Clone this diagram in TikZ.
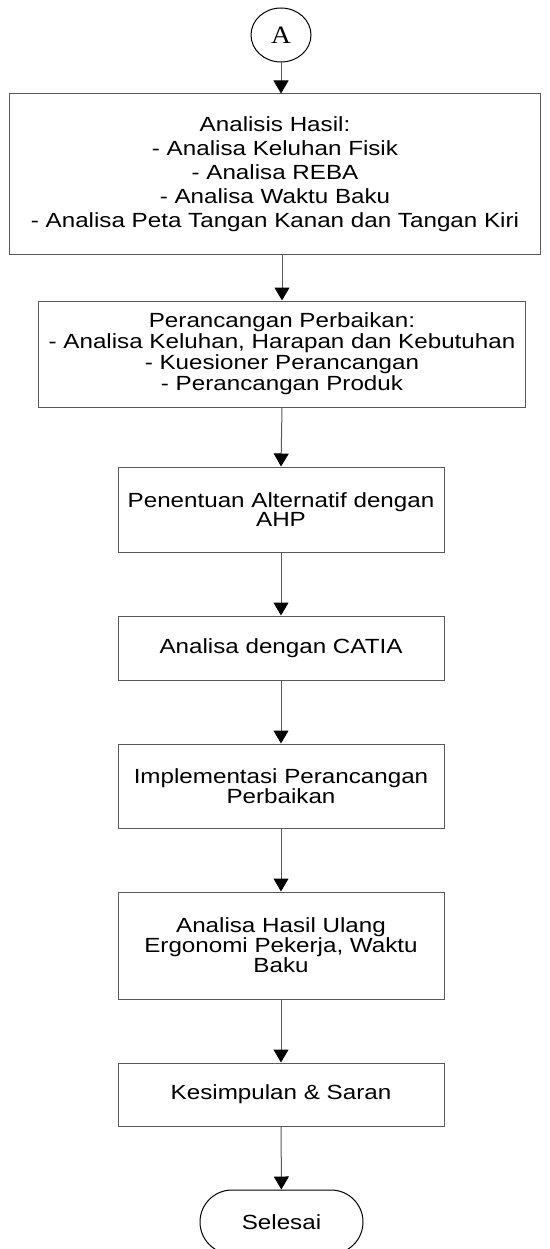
\documentclass[tikz,border=0pt]{standalone}
\usepackage{fontspec}
\newfontfamily\boxfont{Liberation Sans}[FakeStretch=1.18]
\newfontfamily\capfont{Liberation Serif}[FakeStretch=1.1]
\usetikzlibrary{arrows.meta,shapes.geometric,shapes.misc}
\tikzset{
    prosesbox/.style={draw=black!65, line width=1pt, rectangle, inner sep=0pt,
        align=center, font={\boxfont\fontsize{20.5}{18.5}\selectfont}},
    konektor/.style={draw=black, line width=1pt, ellipse, inner sep=0pt,
        minimum width=60pt, minimum height=54pt, font={\capfont\fontsize{25}{25}\selectfont}},
    terminal/.style={draw=black, line width=1pt, rounded rectangle, inner sep=0pt,
        minimum width=163pt, minimum height=64pt, font={\boxfont\fontsize{20.5}{18.5}\selectfont}},
    panah/.style={draw=black!65, line width=1pt, -{Triangle[width=15pt,length=13pt,color=black]}}
}

\begin{document}
\begin{tikzpicture}[x=1pt, y=-1pt]
    \useasboundingbox (0,0) rectangle (549,1249);

    \node[konektor] (a) at (281,35) {A};
    \node[prosesbox, minimum width=531pt, minimum height=160pt,
        font={\boxfont\fontsize{20.5}{24}\selectfont}] (hasil) at (275,174)
        {Analisis Hasil:\\- Analisa Keluhan Fisik\\- Analisa REBA\\- Analisa Waktu Baku\\- Analisa Peta Tangan Kanan dan Tangan Kiri};
    \node[prosesbox, minimum width=487pt, minimum height=106pt,
        font={\boxfont\fontsize{20.5}{21}\selectfont}] (perancangan) at (282,354)
        {Perancangan Perbaikan:\\- Analisa Keluhan, Harapan dan Kebutuhan\\- Kuesioner Perancangan\\- Perancangan Produk};
    \node[prosesbox, minimum width=326pt, minimum height=85pt] (ahp) at (281,509.5)
        {Penentuan Alternatif dengan\\AHP};
    \node[prosesbox, minimum width=326pt, minimum height=64pt] (catia) at (281,648)
        {Analisa dengan CATIA};
    \node[prosesbox, minimum width=326pt, minimum height=84pt] (implementasi) at (281,786)
        {Implementasi Perancangan\\Perbaikan};
    \node[prosesbox, minimum width=326pt, minimum height=107pt] (ulang) at (281,945.5)
        {Analisa Hasil Ulang\\Ergonomi Pekerja, Waktu\\Baku};
    \node[prosesbox, minimum width=326pt, minimum height=63pt] (kesimpulan) at (281,1094.5)
        {Kesimpulan \& Saran};
    \node[terminal] (selesai) at (281.5,1222) {Selesai};

    \draw[panah] (a.south) -- (hasil.north -| a.south);
    \draw[panah] (hasil.south -| perancangan.north) -- (perancangan.north);
    \draw[panah] (perancangan.south) -- (ahp.north);
    \draw[panah] (ahp) -- (catia);
    \draw[panah] (catia) -- (implementasi);
    \draw[panah] (implementasi) -- (ulang);
    \draw[panah] (ulang) -- (kesimpulan);
    \draw[panah] (kesimpulan) -- (selesai);
\end{tikzpicture}
\end{document}
